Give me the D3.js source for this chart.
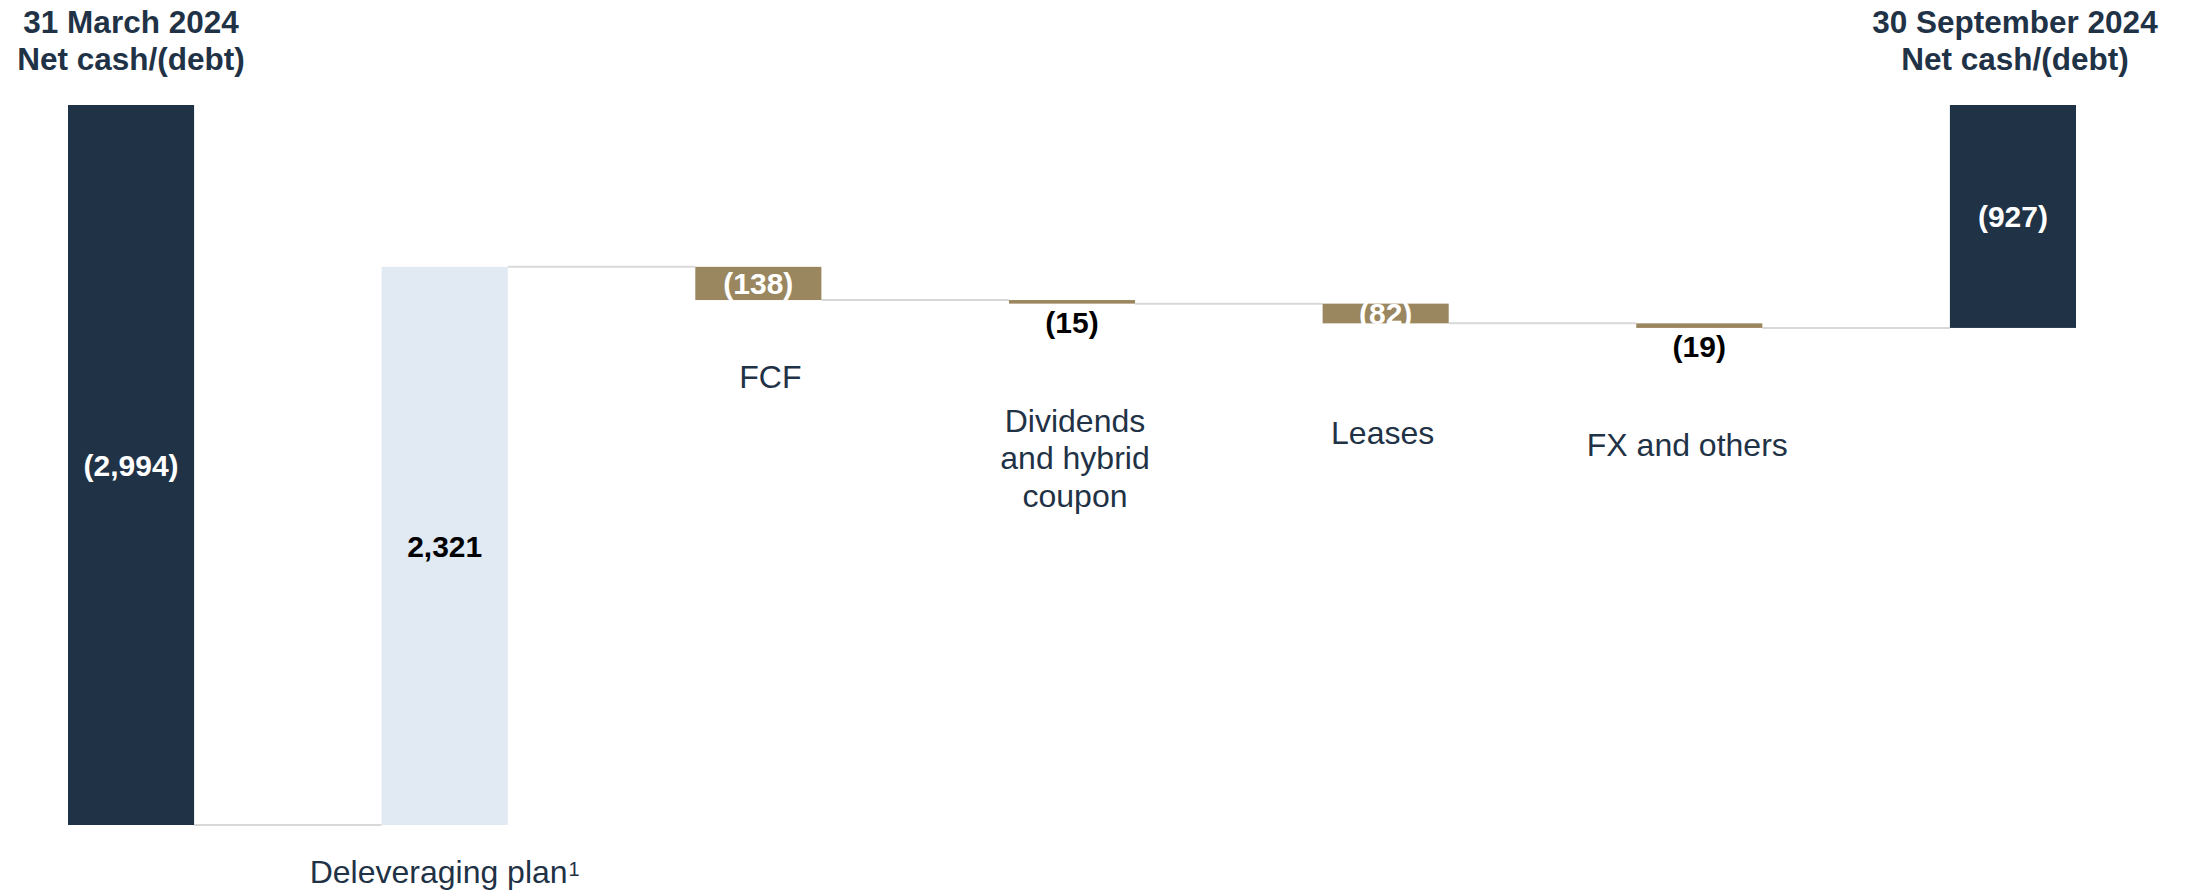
<!DOCTYPE html>
<html>
<head>
<meta charset="utf-8">
<script src="https://cdn.jsdelivr.net/npm/d3@7"></script>
<style>
  html, body { margin: 0; padding: 0; background: #ffffff; }
  svg { display: block; font-family: "Liberation Sans", Arial, sans-serif; }
</style>
</head>
<body>
<svg id="chart" width="2191" height="893"></svg>
<script>
// ---- data ----
const categories = ["31 March 2024", "Deleveraging plan", "FCF", "Dividends and hybrid coupon", "Leases", "FX and others", "30 September 2024"];
const values = [-2994, 2321, -138, -15, -82, -19, -927];
const barKinds = ["total", "increase", "decrease", "decrease", "decrease", "decrease", "total"];
const valueLabels = ["(2,994)", "2,321", "(138)", "(15)", "(82)", "(19)", "(927)"];
const categoryLines = [
  ["31 March 2024", "Net cash/(debt)"],
  ["Deleveraging plan"],
  ["FCF"],
  ["Dividends", "and hybrid", "coupon"],
  ["Leases"],
  ["FX and others"],
  ["30 September 2024", "Net cash/(debt)"]
];
const footnotes = ["", "1", "", "", "", "", ""];

// ---- layout (not data) ----
const W = 2191, H = 893;
const colors = { total: "#1f3246", increase: "#e1e9f3", decrease: "#9b875f" };
const textNavy = "#1f3246";
const valuePlacement = ["inside", "inside", "inside", "below", "inside", "below", "inside"];
const labelBaselines = [[33, 70], [883], [388], [432, 469, 507], [444], [456], [33, 70]];
const labelDx = [0, 0, 12, 3, -3, -12, 2];
const valueFont = 30;
const titleFont = 31.5;
const catFont = 32;

const svg = d3.select("#chart");
svg.append("rect").attr("width", W).attr("height", H).attr("fill", "#ffffff");

const x = d3.scaleBand()
  .domain(categories)
  .range([68, 2076])
  .paddingInner(0.598)
  .paddingOuter(0);

const y = d3.scaleLinear()
  .domain([-2994, 0])
  .range([825, 105]);

// compute waterfall segments
let cum = 0;
const bars = categories.map((c, i) => {
  let start, end;
  if (barKinds[i] === "total") {
    start = 0; end = values[i]; cum = values[i];
  } else {
    start = cum; end = cum + values[i]; cum = end;
  }
  return { cat: c, i, start, end, kind: barKinds[i], after: end };
});

// connectors
const conn = svg.append("g");
bars.slice(0, -1).forEach((b, i) => {
  const nb = bars[i + 1];
  conn.append("line")
    .attr("x1", x(b.cat) + x.bandwidth())
    .attr("x2", x(nb.cat))
    .attr("y1", y(b.after))
    .attr("y2", y(b.after))
    .attr("stroke", "#d9d9d9")
    .attr("stroke-width", 2);
});

// bars
svg.append("g").selectAll("rect")
  .data(bars)
  .join("rect")
  .attr("x", d => x(d.cat))
  .attr("width", x.bandwidth())
  .attr("y", d => y(Math.max(d.start, d.end)))
  .attr("height", d => Math.abs(y(d.start) - y(d.end)))
  .attr("fill", d => colors[d.kind]);

// value labels
svg.append("g").selectAll("text")
  .data(bars)
  .join("text")
  .attr("x", d => x(d.cat) + x.bandwidth() / 2)
  .attr("y", d => {
    const top = y(Math.max(d.start, d.end)), bot = y(Math.min(d.start, d.end));
    return valuePlacement[d.i] === "inside" ? (top + bot) / 2 : bot + 29;
  })
  .attr("dy", d => valuePlacement[d.i] === "inside" ? "0.36em" : 0)
  .attr("text-anchor", "middle")
  .attr("font-size", valueFont)
  .attr("font-weight", "bold")
  .attr("fill", d => (valuePlacement[d.i] === "inside" && d.kind !== "increase") ? "#ffffff" : "#000000")
  .text(d => valueLabels[d.i]);

// category labels
const lab = svg.append("g");
bars.forEach((b, i) => {
  const cx = x(b.cat) + x.bandwidth() / 2 + labelDx[i];
  const bold = barKinds[i] === "total";
  categoryLines[i].forEach((line, k) => {
    const t = lab.append("text")
      .attr("x", cx)
      .attr("y", labelBaselines[i][k])
      .attr("text-anchor", "middle")
      .attr("font-size", bold ? titleFont : catFont)
      .attr("font-weight", bold ? "bold" : "normal")
      .attr("fill", textNavy);
    t.append("tspan").text(line);
    if (footnotes[i] && k === categoryLines[i].length - 1) {
      t.append("tspan")
        .attr("dx", 1)
        .attr("dy", -7)
        .attr("font-size", 20)
        .text(footnotes[i]);
    }
  });
});
</script>
</body>
</html>
